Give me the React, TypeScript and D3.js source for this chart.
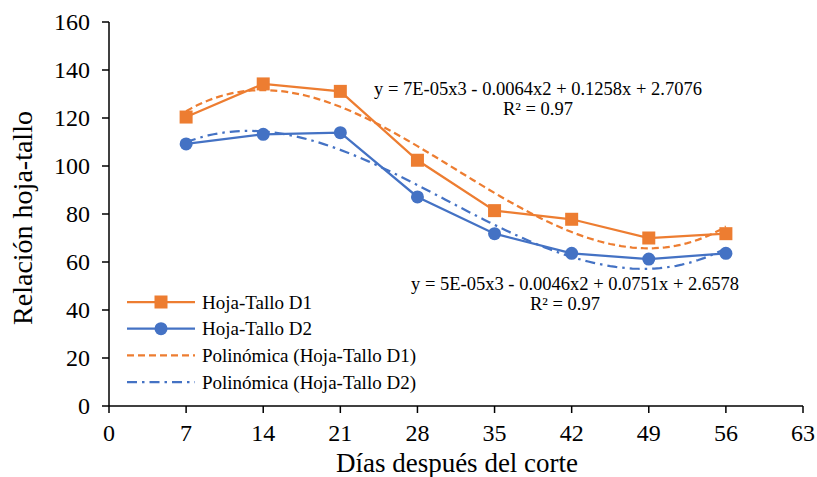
import { useMemo } from 'react';
import * as d3 from 'd3';

const days = [7, 14, 21, 28, 35, 42, 49, 56];
const hojaTalloD1 = [120.4, 134.2, 131.1, 102.4, 81.4, 77.8, 70.0, 71.8];
const hojaTalloD2 = [109.2, 113.2, 113.9, 87.1, 71.8, 63.6, 61.2, 63.6];
const xTicks = [0, 7, 14, 21, 28, 35, 42, 49, 56, 63];
const yTicks = [0, 20, 40, 60, 80, 100, 120, 140, 160];
const eqD1 = 'y = 7E-05x3 - 0.0064x2 + 0.1258x + 2.7076';
const eqD2 = 'y = 5E-05x3 - 0.0046x2 + 0.0751x + 2.6578';
const r2Label = 'R² = 0.97';

const ORANGE = '#ED7D31';
const BLUE = '#4472C4';
const FONT = "'Liberation Serif', 'Times New Roman', serif";

// least squares cubic fit, like the Excel trendline
function cubicFit(xs: number[], ys: number[]) {
  const n = 4;
  const A = Array.from({ length: n }, () => new Array(n + 1).fill(0));
  xs.forEach((x, k) => {
    for (let i = 0; i < n; i++) {
      for (let j = 0; j < n; j++) A[i][j] += Math.pow(x, i + j);
      A[i][n] += ys[k] * Math.pow(x, i);
    }
  });
  for (let c = 0; c < n; c++) {
    let p = c;
    for (let r = c + 1; r < n; r++) if (Math.abs(A[r][c]) > Math.abs(A[p][c])) p = r;
    [A[c], A[p]] = [A[p], A[c]];
    for (let r = 0; r < n; r++) {
      if (r === c) continue;
      const f = A[r][c] / A[c][c];
      for (let k = c; k <= n; k++) A[r][k] -= f * A[c][k];
    }
  }
  const coef = A.map((row, i) => row[n] / row[i]);
  return (x: number) => coef[0] + coef[1] * x + coef[2] * x * x + coef[3] * x * x * x;
}

export default function App() {
  const width = 817;
  const height = 477;
  const x = d3.scaleLinear().domain([0, 63]).range([109, 803]);
  const y = d3.scaleLinear().domain([0, 160]).range([406, 22]);

  const line = d3
    .line<[number, number]>()
    .x((d) => x(d[0]))
    .y((d) => y(d[1]));

  const trends = useMemo(() => {
    const f1 = cubicFit(days, hojaTalloD1);
    const f2 = cubicFit(days, hojaTalloD2);
    const xs = d3.range(7, 56.01, 0.5);
    return {
      d1: xs.map((v) => [v, f1(v)] as [number, number]),
      d2: xs.map((v) => [v, f2(v)] as [number, number])
    };
  }, []);

  const pts1 = days.map((d, i) => [d, hojaTalloD1[i]] as [number, number]);
  const pts2 = days.map((d, i) => [d, hojaTalloD2[i]] as [number, number]);

  const legend = [
    { label: 'Hoja-Tallo D1', color: ORANGE, dash: '', marker: 'square' },
    { label: 'Hoja-Tallo D2', color: BLUE, dash: '', marker: 'circle' },
    { label: 'Polinómica (Hoja-Tallo D1)', color: ORANGE, dash: '7,4', marker: '' },
    { label: 'Polinómica (Hoja-Tallo D2)', color: BLUE, dash: '10,5,2.5,5', marker: '' }
  ];

  return (
    <svg
      width={width}
      height={height}
      style={{ position: 'absolute', left: 0, top: 0, background: '#fff', fontFamily: FONT }}
    >
      <rect width={width} height={height} fill="#fff" />

      {/* trendlines */}
      <path d={line(trends.d1) || ''} fill="none" stroke={ORANGE} strokeWidth={2.25} strokeDasharray="7,4" />
      <path d={line(trends.d2) || ''} fill="none" stroke={BLUE} strokeWidth={2.25} strokeDasharray="10,5,2.5,5" />

      {/* series */}
      <path d={line(pts1) || ''} fill="none" stroke={ORANGE} strokeWidth={2.25} />
      <path d={line(pts2) || ''} fill="none" stroke={BLUE} strokeWidth={2.25} />
      {pts1.map((p, i) => (
        <rect key={'s' + i} x={x(p[0]) - 6.5} y={y(p[1]) - 6.5} width={13} height={13} fill={ORANGE} />
      ))}
      {pts2.map((p, i) => (
        <circle key={'c' + i} cx={x(p[0])} cy={y(p[1])} r={6.5} fill={BLUE} />
      ))}

      {/* axes */}
      <line x1={x(0)} x2={x(0)} y1={y(160)} y2={y(0)} stroke="#000" strokeWidth={1.5} />
      <line x1={x(0)} x2={x(63)} y1={y(0)} y2={y(0)} stroke="#000" strokeWidth={1.5} />
      {yTicks.map((t) => (
        <g key={'y' + t}>
          <line x1={x(0) - 7} x2={x(0)} y1={y(t)} y2={y(t)} stroke="#000" strokeWidth={1.5} />
          <text x={x(0) - 19} y={y(t)} dy="0.34em" textAnchor="end" fontSize={24}>
            {t}
          </text>
        </g>
      ))}
      {xTicks.map((t) => (
        <g key={'x' + t}>
          <line x1={x(t)} x2={x(t)} y1={y(0)} y2={y(0) + 7} stroke="#000" strokeWidth={1.5} />
          <text x={x(t)} y={y(0) + 35} textAnchor="middle" fontSize={24}>
            {t}
          </text>
        </g>
      ))}

      {/* axis titles */}
      <text x={457} y={472} textAnchor="middle" fontSize={27}>
        Días después del corte
      </text>
      <text transform="translate(32,218) rotate(-90)" textAnchor="middle" fontSize={28}>
        Relación hoja-tallo
      </text>

      {/* equations */}
      <text x={538} y={95} textAnchor="middle" fontSize={18.5}>{eqD1}</text>
      <text x={538} y={115} textAnchor="middle" fontSize={18.5}>{r2Label}</text>
      <text x={575} y={290} textAnchor="middle" fontSize={18.5}>{eqD2}</text>
      <text x={565} y={310} textAnchor="middle" fontSize={18.5}>{r2Label}</text>

      {/* legend */}
      {legend.map((l, i) => {
        const ly = 302 + i * 26.7;
        return (
          <g key={l.label}>
            <line x1={127} x2={195} y1={ly} y2={ly} stroke={l.color} strokeWidth={2.25} strokeDasharray={l.dash || undefined} />
            {l.marker === 'square' && <rect x={154.5} y={ly - 6.5} width={13} height={13} fill={l.color} />}
            {l.marker === 'circle' && <circle cx={161} cy={ly} r={6.5} fill={l.color} />}
            <text x={202} y={ly} dy="0.35em" fontSize={19}>
              {l.label}
            </text>
          </g>
        );
      })}
    </svg>
  );
}
